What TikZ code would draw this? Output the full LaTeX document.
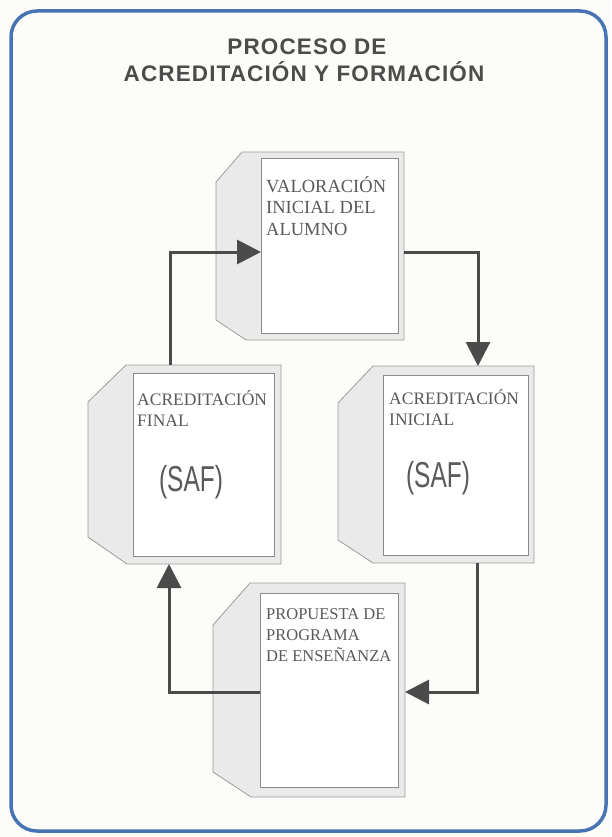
\documentclass[tikz,border=0pt]{standalone}
\usepackage{fontspec}
\usepackage{graphicx}
\setmainfont{Liberation Serif}
\newfontfamily\titlefont[LetterSpace=5]{Liberation Sans}
\newfontfamily\saffont{Liberation Sans}
\usetikzlibrary{arrows.meta, positioning}
\definecolor{frameblue}{RGB}{72,116,180}
\definecolor{paper}{RGB}{252,252,249}
\definecolor{shellgray}{RGB}{234,234,234}
\definecolor{edgegray}{RGB}{156,156,156}
\definecolor{boxedge}{RGB}{138,138,138}
\definecolor{arrowgray}{RGB}{75,75,75}
\definecolor{textgray}{RGB}{90,90,90}
\tikzset{>={Triangle[length=24pt, width=24pt]}}
\tikzset{
    shell/.style={inner sep=0, outer sep=0, anchor=north west},
    shellfill/.style={fill=shellgray, draw=edgegray, line width=0.8pt},
    page/.style={fill=white, draw=boxedge, line width=0.9pt, inner sep=0, outer sep=0, anchor=north west},
    lbl/.style={anchor=base west, align=left, inner sep=0, text=textgray, font=\fontsize{17.5}{21}\selectfont},
    saf/.style={text=textgray, inner sep=0, font=\saffont\fontsize{36}{36}\selectfont},
    flow/.style={->, draw=arrowgray, line width=3pt},
    title/.style={anchor=base, inner sep=0, text=textgray!85!black, font=\titlefont\bfseries\fontsize{22.5}{26}\selectfont},
}

\begin{document}
\begin{tikzpicture}[x=1pt, y=-1pt]
    \useasboundingbox (0,0) rectangle (611,837);
    \fill[paper] (0,0) rectangle (611,837);
    \draw[frameblue, line width=3.5pt, rounded corners=26pt] (11,11) rectangle (606,831);

    % title
    \node [title](titletop) at (307,55) {PROCESO DE};
    \node [title](titlebot) at (304,82) {ACREDITACIÓN Y FORMACIÓN};

    % grey folders behind the sheets
    \node [shell, minimum width=188, minimum height=188](valorsh) at (216,152) {};
    \node [shell, minimum width=193, minimum height=199](finalsh) at (88,365) {};
    \node [shell, minimum width=196, minimum height=197](inicialsh) at (338,366) {};
    \node [shell, minimum width=192, minimum height=214](propuestash) at (213,583) {};
    \filldraw [shellfill] (valorsh.north east) -- (valorsh.south east) -- ([xshift=30pt]valorsh.south west)
        -- ([yshift=20pt]valorsh.south west) -- ([yshift=-30pt]valorsh.north west) -- ([xshift=26pt]valorsh.north west) -- cycle;
    \filldraw [shellfill] (finalsh.north east) -- (finalsh.south east) -- ([xshift=39pt]finalsh.south west)
        -- ([yshift=27pt]finalsh.south west) -- ([yshift=-37pt]finalsh.north west) -- ([xshift=38pt]finalsh.north west) -- cycle;
    \filldraw [shellfill] (inicialsh.north east) -- (inicialsh.south east) -- ([xshift=35pt]inicialsh.south west)
        -- ([yshift=23pt]inicialsh.south west) -- ([yshift=-37pt]inicialsh.north west) -- ([xshift=35pt]inicialsh.north west) -- cycle;
    \filldraw [shellfill] (propuestash.north east) -- (propuestash.south east) -- ([xshift=38pt]propuestash.south west)
        -- ([yshift=25pt]propuestash.south west) -- ([yshift=-42pt]propuestash.north west) -- ([xshift=37pt]propuestash.north west) -- cycle;

    % white sheets
    \node [page, minimum width=137, minimum height=175](valor) at (261,158) {};
    \node [page, minimum width=141, minimum height=183](final) at (133,373) {};
    \node [page, minimum width=145, minimum height=180](inicial) at (383,375) {};
    \node [page, minimum width=138, minimum height=194](propuesta) at (260,593) {};

    % base of a label = its last line
    \node [lbl, font=\fontsize{18.5}{21.5}\selectfont](valortxt) at (266,235) {VALORACIÓN\\INICIAL DEL\\ALUMNO};
    \node [lbl](finaltxt) at (137,426) {ACREDITACIÓN\\FINAL};
    \node [lbl](inicialtxt) at (389,425) {ACREDITACIÓN\\INICIAL};
    \node [lbl, font=\fontsize{16.5}{21}\selectfont](propuestatxt) at (266,661) {PROPUESTA DE\\PROGRAMA\\DE ENSEÑANZA};
    \node [saf](finalsaf) at (191,482) {\scalebox{0.68}[1]{(SAF)}};
    \node [saf](inicialsaf) at (438,478) {\scalebox{0.68}[1]{(SAF)}};

    % cycle
    \coordinate (upl) at (170,252);
    \coordinate (upr) at (478,252);
    \coordinate (lowr) at (477,692);
    \coordinate (lowl) at (169,692);
    \draw [flow] (finalsh.north -| upl) |- (valor.west |- upl);
    \draw [flow] (valorsh.east |- upr) -| (inicialsh.north -| upr);
    \draw [flow] (inicialsh.south -| lowr) |- (propuestash.east |- lowr);
    \draw [flow] (propuesta.west |- lowl) -| (finalsh.south -| lowl);
\end{tikzpicture}
\end{document}
